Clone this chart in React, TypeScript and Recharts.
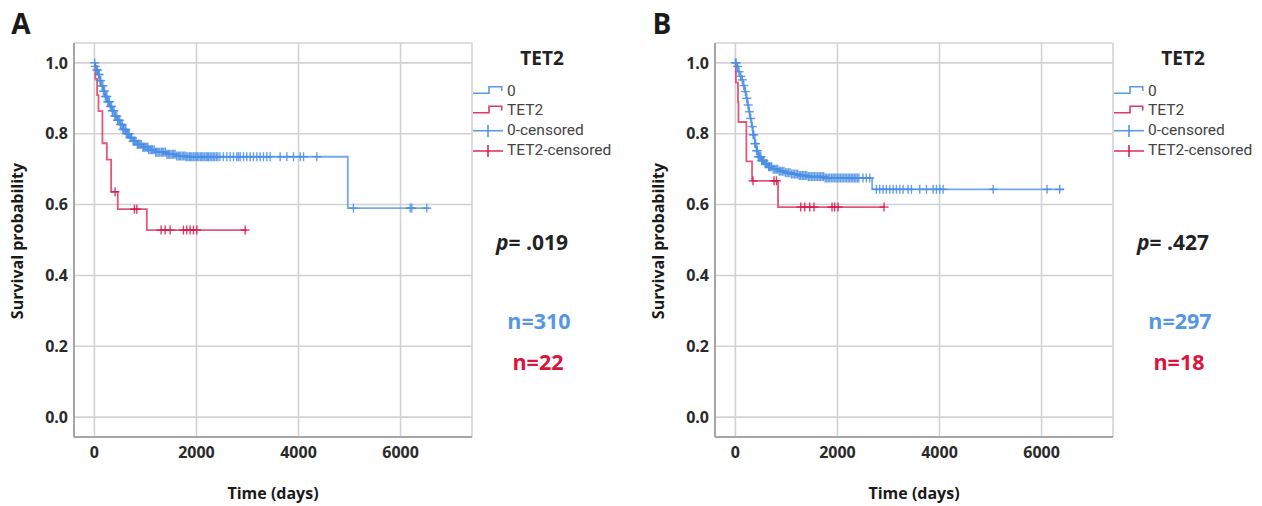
import React from "react";
import { ComposedChart, Line, Scatter, XAxis, YAxis, CartesianGrid } from "recharts";

type Pt = [number, number];

// Panel A
const aZeroSteps: Pt[] = [[0,1],[15,0.99],[40,0.98],[70,0.967],[100,0.95],[130,0.935],[170,0.92],[210,0.905],[250,0.89],[300,0.877],[341,0.865],[400,0.85],[450,0.838],[500,0.826],[560,0.812],[620,0.8],[690,0.789],[760,0.779],[840,0.77],[930,0.762],[1050,0.755],[1200,0.748],[1400,0.742],[1600,0.737],[1800,0.735],[4966,0.59],[6560,0.59]];
const aZeroCensor: number[] = [5,20,45,60,80,95,110,125,150,165,175,200,215,225,245,260,280,295,310,335,350,360,385,400,410,440,455,465,495,510,520,545,560,575,600,615,625,650,665,680,705,720,730,760,775,790,815,840,855,870,895,920,950,965,980,1005,1030,1045,1060,1090,1115,1140,1170,1200,1225,1250,1280,1310,1335,1360,1390,1420,1445,1470,1500,1530,1555,1580,1610,1640,1665,1690,1720,1750,1775,1800,1830,1860,1885,1910,1940,1970,1995,2020,2050,2080,2105,2130,2160,2190,2215,2240,2270,2300,2330,2360,2390,2420,2460,2528,2595,2660,2725,2790,2823,2857,2921,2986,3052,3117,3183,3248,3313,3379,3444,3640,3771,3902,4033,4098,4359,5076,6188,6221,6515];
const aTetSteps: Pt[] = [[0,1],[18,0.955],[53,0.909],[80,0.864],[157,0.773],[243,0.727],[327,0.636],[458,0.587],[1027,0.528],[2990,0.528]];
const aTetCensor: number[] = [405,784,831,1307,1386,1484,1745,1811,1876,1941,2007,2954];

// Panel B
const bZeroSteps: Pt[] = [[0,1],[30,0.99],[55,0.975],[90,0.962],[120,0.952],[150,0.936],[182,0.919],[210,0.9],[235,0.881],[260,0.862],[285,0.843],[315,0.82],[345,0.797],[380,0.772],[415,0.752],[450,0.735],[510,0.724],[570,0.715],[640,0.707],[730,0.7],[835,0.694],[960,0.69],[1100,0.686],[1250,0.682],[1420,0.679],[1750,0.675],[2680,0.643],[6440,0.643]];
const bZeroCensor: number[] = [0,15,40,70,105,135,165,195,225,250,275,300,330,345,360,380,395,415,430,450,470,485,500,515,530,545,560,590,605,620,650,665,680,710,740,770,800,830,860,890,920,950,980,1010,1040,1070,1100,1130,1160,1190,1220,1250,1280,1310,1340,1370,1400,1430,1460,1490,1520,1550,1580,1610,1640,1670,1700,1730,1760,1790,1820,1850,1880,1910,1940,1970,2000,2030,2060,2090,2120,2150,2180,2210,2240,2270,2300,2330,2360,2390,2420,2501,2566,2632,2763,2829,2894,2959,3025,3090,3155,3221,3286,3384,3450,3613,3744,3874,3940,4005,4071,5051,6107,6356];
const bTetSteps: Pt[] = [[0,1],[10,0.944],[50,0.889],[60,0.833],[215,0.722],[326,0.667],[835,0.593],[2930,0.593]];
const bTetCensor: number[] = [345,757,804,1280,1359,1457,1541,1894,1946,2011,2913];

const xTicks = [0, 2000, 4000, 6000];
const yTicks = [0, 0.2, 0.4, 0.6, 0.8, 1.0];
const legendLabels = ["0", "TET2", "0-censored", "TET2-censored"];

const BLUE = "#5b9be8";
const BLUE_MARK = "#4a8ee4";
const RED = "#e03a62";
const RED_MARK = "#d8174c";
const NBLUE = "#5597e6";
const NRED = "#dc143c";
const BOLD = "'Open Sans', sans-serif";

const toRows = (s: Pt[]) => s.map(([t, v]) => ({ t, s: v }));
const survAt = (s: Pt[], t: number) => {
  let v = s[0][1];
  for (const [tt, vv] of s) if (tt <= t) v = vv;
  return v;
};
const censorRows = (s: Pt[], c: number[]) => c.map((t) => ({ t, s: survAt(s, t) }));

const crossShape = (color: string) => (props: any) => {
  const { cx, cy } = props;
  if (cx == null || cy == null) return <g />;
  return (
    <g stroke={color} strokeWidth={1.4} strokeOpacity={0.85}>
      <line x1={cx - 4.5} y1={cy} x2={cx + 4.5} y2={cy} />
      <line x1={cx} y1={cy - 4.5} x2={cx} y2={cy + 4.5} />
    </g>
  );
};

const Txt = ({ x, y, children, style, left }: any) => (
  <div
    style={{
      position: "absolute",
      left: x,
      top: y,
      transform: left ? "translate(0,-50%)" : "translate(-50%,-50%)",
      whiteSpace: "nowrap",
      lineHeight: 1,
      ...style,
    }}
  >
    {children}
  </div>
);

const LegendIcons = () => (
  <svg width={40} height={80} style={{ position: "absolute", left: 470, top: 80 }}>
    <path d="M3,13.3 H19 V6.7 H31.7 V11" fill="none" stroke={BLUE} strokeWidth={1.6} />
    <path d="M3,32.8 H19 V26.2 H31.7 V30.5" fill="none" stroke={RED} strokeWidth={1.6} />
    <line x1={3} y1={50.7} x2={33} y2={50.7} stroke={BLUE} strokeWidth={1.6} />
    <line x1={18} y1={45} x2={18} y2={57} stroke={BLUE_MARK} strokeWidth={1.5} />
    <line x1={3} y1={71} x2={33} y2={71} stroke={RED} strokeWidth={1.6} />
    <line x1={18} y1={65} x2={18} y2={77} stroke={RED_MARK} strokeWidth={1.5} />
  </svg>
);

const Panel = ({ offset, letter, zero, zeroC, tet, tetC, p, n0, n1 }: any) => (
  <div style={{ position: "absolute", left: offset, top: 0, width: 640, height: 506 }}>
    <ComposedChart width={640} height={506} margin={{ top: 43, right: 168, bottom: 39, left: 34 }}>
      <CartesianGrid stroke="#d2d2d2" strokeWidth={1.6} />
      <XAxis
        type="number"
        dataKey="t"
        domain={[-400, 7400]}
        ticks={xTicks}
        allowDataOverflow
        height={30}
        tickLine={false}
        tickSize={6}
        tickMargin={4}
        axisLine={{ stroke: "#a6a6a6", strokeWidth: 2 }}
        tick={{ fill: "#2a2a2a", fontFamily: BOLD, fontWeight: 700, fontSize: 16 }}
      />
      <YAxis
        type="number"
        dataKey="s"
        domain={[-0.056, 1.056]}
        ticks={yTicks}
        allowDataOverflow
        width={40}
        tickLine={false}
        tickSize={4}
        tickMargin={2}
        axisLine={{ stroke: "#a6a6a6", strokeWidth: 2 }}
        tickFormatter={(v: number) => v.toFixed(1)}
        tick={{ fill: "#2a2a2a", fontFamily: BOLD, fontWeight: 700, fontSize: 16 }}
      />
      <Line data={toRows(zero)} dataKey="s" type="stepAfter" stroke={BLUE} strokeWidth={1.8} strokeOpacity={0.85} dot={false} isAnimationActive={false} />
      <Line data={toRows(tet)} dataKey="s" type="stepAfter" stroke={RED} strokeWidth={1.8} strokeOpacity={0.85} dot={false} isAnimationActive={false} />
      <Scatter data={censorRows(zero, zeroC)} dataKey="s" shape={crossShape(BLUE_MARK)} isAnimationActive={false} />
      <Scatter data={censorRows(tet, tetC)} dataKey="s" shape={crossShape(RED_MARK)} isAnimationActive={false} />
    </ComposedChart>
    <Txt x={21} y={23} style={{ fontFamily: BOLD, fontWeight: 700, fontSize: 28, color: "#1a1a1a" }}>{letter}</Txt>
    <Txt x={273} y={493} style={{ fontFamily: BOLD, fontWeight: 700, fontSize: 16, color: "#1a1a1a" }}>Time (days)</Txt>
    <Txt x={17} y={241} style={{ fontFamily: BOLD, fontWeight: 700, fontSize: 16, color: "#1a1a1a", transform: "translate(-50%,-50%) rotate(-90deg)" }}>Survival probability</Txt>
    <Txt x={542} y={58} style={{ fontFamily: BOLD, fontWeight: 700, fontSize: 19, color: "#222" }}>TET2</Txt>
    <LegendIcons />
    {legendLabels.map((l, i) => (
      <Txt key={l} left x={507} y={[92, 111, 131, 151][i]} style={{ fontFamily: "Roboto, sans-serif", fontSize: 15.5, color: "#444" }}>{l}</Txt>
    ))}
    <Txt x={532} y={242} style={{ fontFamily: BOLD, fontWeight: 700, fontSize: 21, color: "#222" }}>
      <i>p</i>= {p}
    </Txt>
    <Txt x={539} y={321} style={{ fontFamily: BOLD, fontWeight: 700, fontSize: 21.5, color: NBLUE }}>{n0}</Txt>
    <Txt x={538} y={362} style={{ fontFamily: BOLD, fontWeight: 700, fontSize: 21.5, color: NRED }}>{n1}</Txt>
  </div>
);

export default function App() {
  return (
    <div style={{ position: "absolute", left: 0, top: 0, width: 1262, height: 506, background: "#fff", overflow: "hidden" }}>
      <Panel offset={0} letter="A" zero={aZeroSteps} zeroC={aZeroCensor} tet={aTetSteps} tetC={aTetCensor} p=".019" n0="n=310" n1="n=22" />
      <Panel offset={641} letter="B" zero={bZeroSteps} zeroC={bZeroCensor} tet={bTetSteps} tetC={bTetCensor} p=".427" n0="n=297" n1="n=18" />
    </div>
  );
}
